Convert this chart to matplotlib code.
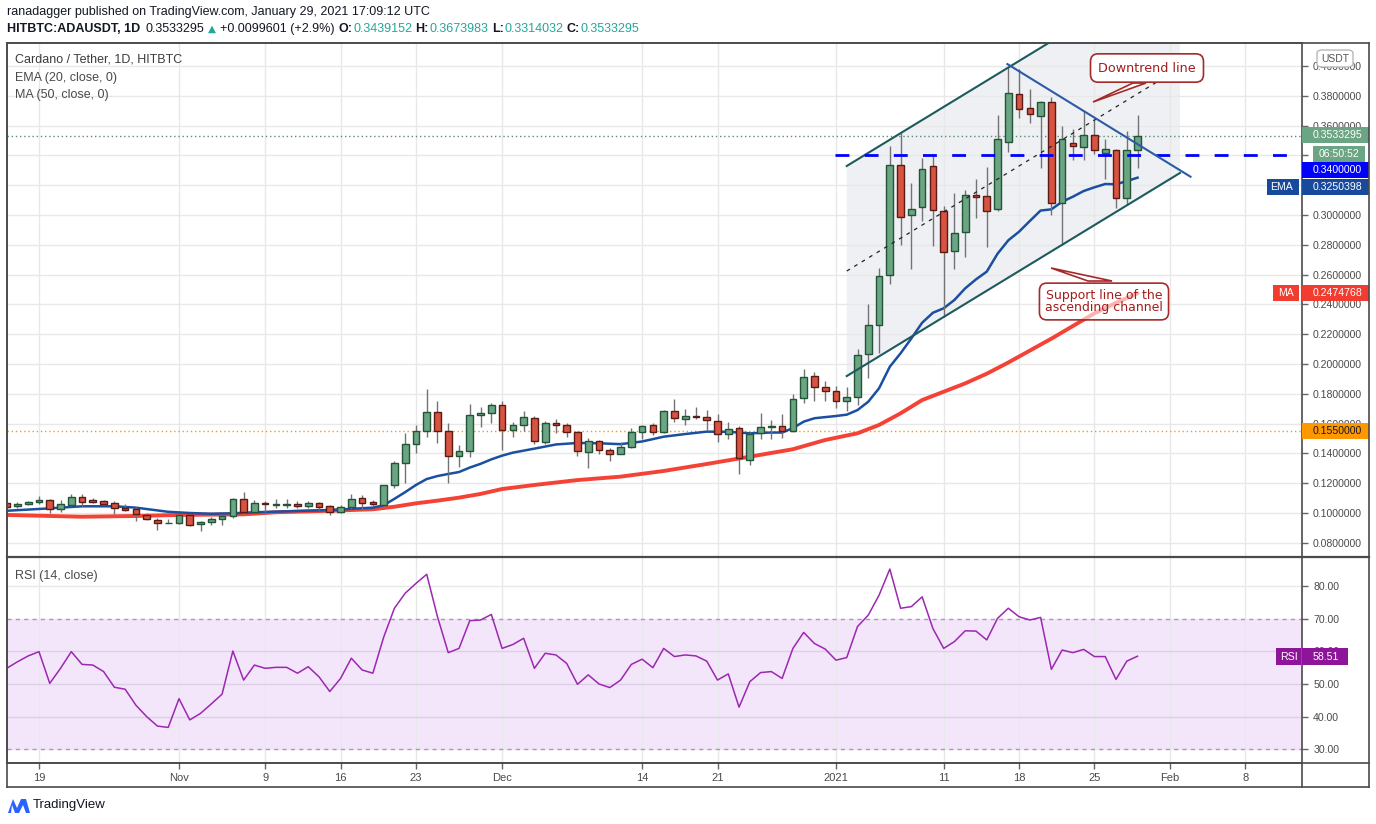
"""
ADA/USDT daily chart (TradingView style): candles, EMA20, MA50, channel drawings, RSI pane.
"""
import numpy as np
import pandas as pd
import matplotlib
matplotlib.use("Agg")
import matplotlib.pyplot as plt
import matplotlib.dates as mdates
from matplotlib.patches import Rectangle, Polygon, FancyBboxPatch
from matplotlib.lines import Line2D
from matplotlib.transforms import blended_transform_factory

plt.rcParams["font.family"] = ["Liberation Sans", "DejaVu Sans"]

# ---- data: daily candles 2020-10-16 .. 2021-01-29 ----
opens = [
    0.1065, 0.1045, 0.1058, 0.1076, 0.1085, 0.1025, 0.1056, 0.1105, 0.1086, 0.1078, 0.1067, 0.1034, 0.1027, 0.0985, 0.0955, 0.0932,
    0.0931, 0.0985, 0.0924, 0.0938, 0.0958, 0.0978, 0.1094, 0.1007, 0.1065, 0.1056, 0.1057, 0.1058, 0.1045, 0.1065, 0.1045,
    0.1005, 0.1038, 0.1099, 0.1072, 0.1056, 0.1186, 0.1334, 0.1461, 0.1548, 0.1676, 0.1548, 0.1381, 0.1414, 0.1656, 0.1669,
    0.1723, 0.1555, 0.1589, 0.1636, 0.1474, 0.1602, 0.1589, 0.1542, 0.1407, 0.1481, 0.1421, 0.1394, 0.1441, 0.1542, 0.1589,
    0.1542, 0.1683, 0.1629, 0.1649, 0.1642, 0.1615, 0.1528, 0.1569, 0.1354, 0.1535, 0.1575, 0.1582, 0.1548, 0.1770, 0.1917, 0.1844,
    0.1817, 0.1750, 0.1777, 0.2065, 0.2260, 0.2595, 0.3333, 0.2998, 0.3052, 0.3327, 0.3025, 0.2756, 0.2884, 0.3132, 0.3128,
    0.3038, 0.3488, 0.3810, 0.3716, 0.3662, 0.3756, 0.3078, 0.3481, 0.3454, 0.3535, 0.3414, 0.3434, 0.3112, 0.3439152,
]
highs = [
    0.1068, 0.1072, 0.1078, 0.1114, 0.1096, 0.1087, 0.1130, 0.1128, 0.1101, 0.1090, 0.1078, 0.1063, 0.1040, 0.1002, 0.0965, 0.0958,
    0.0994, 0.0996, 0.0946, 0.0971, 0.0985, 0.1099, 0.1141, 0.1087, 0.1079, 0.1094, 0.1094, 0.1079, 0.1079, 0.1072, 0.1052,
    0.1052, 0.1126, 0.1119, 0.1085, 0.1190, 0.1349, 0.1535, 0.1591, 0.1832, 0.1752, 0.1602, 0.1454, 0.1730, 0.1709, 0.1736,
    0.1750, 0.1609, 0.1685, 0.1651, 0.1615, 0.1629, 0.1602, 0.1548, 0.1501, 0.1488, 0.1434, 0.1474, 0.1569, 0.1589, 0.1602,
    0.1690, 0.1765, 0.1698, 0.1711, 0.1691, 0.1664, 0.1609, 0.1582, 0.1542, 0.1671, 0.1622, 0.1664, 0.1799, 0.1966, 0.1944, 0.1884,
    0.1855, 0.1844, 0.2101, 0.2405, 0.2642, 0.3461, 0.3548, 0.3213, 0.3380, 0.3401, 0.3060, 0.3146, 0.3166, 0.3240, 0.3320,
    0.3669, 0.3991, 0.3978, 0.3844, 0.3763, 0.3790, 0.3595, 0.3575, 0.3696, 0.3642, 0.3508, 0.3441, 0.3562, 0.3673983,
]
lows = [
    0.1035, 0.1032, 0.1052, 0.1058, 0.1002, 0.1009, 0.1050, 0.1049, 0.1067, 0.1055, 0.0991, 0.1014, 0.0948, 0.0951, 0.0886, 0.0931,
    0.0925, 0.0915, 0.0881, 0.0918, 0.0921, 0.0967, 0.0994, 0.1000, 0.1005, 0.1036, 0.1036, 0.1031, 0.1031, 0.1018, 0.0985,
    0.0998, 0.1030, 0.1020, 0.1045, 0.1050, 0.1166, 0.1199, 0.1405, 0.1512, 0.1472, 0.1199, 0.1307, 0.1378, 0.1575, 0.1602,
    0.1425, 0.1508, 0.1548, 0.1461, 0.1461, 0.1535, 0.1508, 0.1381, 0.1300, 0.1394, 0.1347, 0.1394, 0.1434, 0.1495, 0.1526,
    0.1535, 0.1609, 0.1589, 0.1629, 0.1555, 0.1474, 0.1495, 0.1260, 0.1320, 0.1495, 0.1495, 0.1501, 0.1541, 0.1736, 0.1754, 0.1754,
    0.1703, 0.1687, 0.1725, 0.1904, 0.2072, 0.2535, 0.2797, 0.2636, 0.2958, 0.2790, 0.2313, 0.2636, 0.2720, 0.2982, 0.2783,
    0.3025, 0.3421, 0.3649, 0.3620, 0.3313, 0.2998, 0.2797, 0.3367, 0.3367, 0.3407, 0.3240, 0.3045, 0.3065, 0.3314032,
]
closes = [
    0.1038, 0.1058, 0.1074, 0.1087, 0.1027, 0.1060, 0.1105, 0.1076, 0.1076, 0.1062, 0.1032, 0.1022, 0.0991, 0.0958, 0.0931, 0.0935,
    0.0985, 0.0922, 0.0940, 0.0958, 0.0980, 0.1094, 0.1007, 0.1067, 0.1059, 0.1059, 0.1060, 0.1045, 0.1065, 0.1038, 0.1005,
    0.1038, 0.1092, 0.1065, 0.1058, 0.1186, 0.1334, 0.1461, 0.1548, 0.1676, 0.1548, 0.1381, 0.1414, 0.1656, 0.1669, 0.1723,
    0.1555, 0.1589, 0.1642, 0.1481, 0.1602, 0.1589, 0.1542, 0.1414, 0.1481, 0.1421, 0.1394, 0.1441, 0.1542, 0.1582, 0.1542,
    0.1683, 0.1636, 0.1649, 0.1642, 0.1622, 0.1528, 0.1562, 0.1367, 0.1528, 0.1575, 0.1582, 0.1548, 0.1763, 0.1911, 0.1844, 0.1817,
    0.1750, 0.1777, 0.2058, 0.2260, 0.2589, 0.3333, 0.2985, 0.3038, 0.3307, 0.3032, 0.2750, 0.2877, 0.3132, 0.3119, 0.3025,
    0.3508, 0.3817, 0.3709, 0.3676, 0.3756, 0.3078, 0.3508, 0.3461, 0.3535, 0.3434, 0.3441, 0.3112, 0.3434, 0.3533295,
]
rsi_vals = [
    54.8, 56.8, 58.6, 59.9, 50.2, 54.8, 59.9, 56.0, 55.8, 53.8, 49.0, 48.4, 43.5, 40.0, 37.1, 36.7,
    45.5, 39.0, 41.0, 43.9, 46.9, 60.1, 51.2, 55.8, 54.8, 55.1, 55.1, 53.3, 55.3, 52.2, 47.7,
    51.7, 57.9, 54.3, 53.3, 64.3, 73.2, 77.8, 80.8, 83.6, 70.6, 59.6, 60.9, 69.4, 69.6, 71.3,
    60.9, 62.1, 64.0, 54.8, 59.4, 58.9, 56.3, 49.9, 52.8, 50.0, 48.9, 51.2, 56.0, 57.6, 55.0,
    60.9, 58.4, 58.9, 58.6, 57.0, 51.2, 53.1, 42.9, 50.7, 53.5, 53.8, 51.7, 60.9, 65.8, 62.4, 60.7,
    57.3, 58.1, 67.6, 71.1, 77.2, 85.2, 73.2, 73.7, 76.7, 67.0, 60.9, 63.0, 66.3, 66.2, 63.5,
    70.1, 73.2, 70.6, 69.6, 70.4, 54.5, 60.4, 59.6, 60.6, 58.4, 58.4, 51.4, 57.0, 58.51,
]

ema_dates = ["2020-10-16", "2020-10-19", "2020-10-23", "2020-10-26", "2020-10-28", "2020-10-31", "2020-11-02",
             "2020-11-04", "2020-11-06", "2020-11-08", "2020-11-10", "2020-11-15", "2020-11-19", "2020-11-20",
             "2020-11-21", "2020-11-22", "2020-11-23", "2020-11-24", "2020-11-25", "2020-11-26", "2020-11-27",
             "2020-11-28", "2020-11-29", "2020-11-30", "2020-12-01", "2020-12-02", "2020-12-04", "2020-12-06",
             "2020-12-08", "2020-12-10", "2020-12-12", "2020-12-14", "2020-12-16", "2020-12-18", "2020-12-20",
             "2020-12-22", "2020-12-24", "2020-12-26", "2020-12-27", "2020-12-28", "2020-12-29", "2020-12-30",
             "2021-01-01", "2021-01-02", "2021-01-03", "2021-01-04", "2021-01-05", "2021-01-06", "2021-01-07",
             "2021-01-08", "2021-01-09", "2021-01-10", "2021-01-11", "2021-01-12", "2021-01-13", "2021-01-14",
             "2021-01-15", "2021-01-16", "2021-01-17", "2021-01-18", "2021-01-19", "2021-01-20", "2021-01-21",
             "2021-01-22", "2021-01-23", "2021-01-24", "2021-01-25", "2021-01-26", "2021-01-27", "2021-01-28",
             "2021-01-29"]
ema_vals = [0.1015, 0.1027, 0.1045, 0.1045, 0.1036, 0.1008, 0.1000,
            0.0995, 0.0998, 0.1005, 0.1009, 0.1020, 0.1036, 0.1052,
            0.1095, 0.1140, 0.1188, 0.1228, 0.1248, 0.1262, 0.1275,
            0.1305, 0.1330, 0.1360, 0.1385, 0.1405, 0.1432, 0.1460,
            0.1470, 0.1468, 0.1462, 0.1480, 0.1512, 0.1530, 0.1546,
            0.1545, 0.1535, 0.1540, 0.1540, 0.1570, 0.1613, 0.1636,
            0.1651, 0.1660, 0.1691, 0.1747, 0.1837, 0.1982, 0.2072,
            0.2172, 0.2277, 0.2344, 0.2374, 0.2430, 0.2508, 0.2568,
            0.2620, 0.2740, 0.2830, 0.2888, 0.2960, 0.3030, 0.3038,
            0.3089, 0.3123, 0.3161, 0.3186, 0.3208, 0.3206, 0.3228,
            0.3250398]
ma_dates = ["2020-10-16", "2020-10-23", "2020-10-28", "2020-11-01", "2020-11-07", "2020-11-10", "2020-11-15",
            "2020-11-19", "2020-11-21", "2020-11-23", "2020-11-25", "2020-11-27", "2020-11-29", "2020-12-01",
            "2020-12-04", "2020-12-08", "2020-12-12", "2020-12-16", "2020-12-20", "2020-12-24", "2020-12-28",
            "2020-12-31", "2021-01-03", "2021-01-05", "2021-01-07", "2021-01-09", "2021-01-11", "2021-01-13",
            "2021-01-15", "2021-01-17", "2021-01-19", "2021-01-21", "2021-01-23", "2021-01-25", "2021-01-27",
            "2021-01-29"]
ma_vals = [0.0987, 0.0975, 0.0980, 0.0987, 0.0991, 0.1005, 0.1015,
           0.1025, 0.1042, 0.1065, 0.1083, 0.1103, 0.1128, 0.1161,
           0.1188, 0.1221, 0.1244, 0.1282, 0.1329, 0.1378, 0.1428,
           0.1490, 0.1535, 0.1591, 0.1669, 0.1758, 0.1814, 0.1870,
           0.1935, 0.2010, 0.2090, 0.2170, 0.2255, 0.2340, 0.2410,
           0.2474768]

tick_dates = ["2020-10-19", "2020-11-01", "2020-11-09", "2020-11-16", "2020-11-23", "2020-12-01", "2020-12-14",
              "2020-12-21", "2021-01-01", "2021-01-11", "2021-01-18", "2021-01-25", "2021-02-01", "2021-02-08"]
tick_labels = ["19", "Nov", "9", "16", "23", "Dec", "14", "21", "2021", "11", "18", "25", "Feb", "8"]

last_price = 0.3533295
level_line = 0.34
support_level = 0.155

# drawings (author's trend lines): (date, price)
chan_start, chan_end = "2021-01-02", "2021-02-01 22:30"
chan_lower = (0.1919, 0.3282)
chan_width = 0.1410
downtrend = [("2021-01-16 22:00", 0.4013), ("2021-02-02 22:00", 0.3257)]

# ---- layout helpers ----
W, H = 1376, 824
def fx(px): return px / W
def fy(py): return 1 - py / H
def dn(s): return mdates.date2num(np.datetime64(pd.Timestamp(s)))

X0 = dn("2020-10-19")
def pxd(x): return X0 + (x - 39) / 10.77          # pixel x -> date number
def pyp(y): return 0.10 + (513 - y) / 1490          # pixel y -> price

GRID = "#e8e8e8"
FRAME = "#4a4a4a"
TXT = "#4a4a4a"
UP, UP_EDGE = "#6ba583", "#225437"
DN, DN_EDGE = "#d75442", "#5b1a13"
AXFS = 7.6

fig = plt.figure(figsize=(13.76, 8.24), dpi=100)
fig.patch.set_facecolor("white")
ax = fig.add_axes([fx(7), fy(557), fx(1302) - fx(7), fy(43) - fy(557)])
rs = fig.add_axes([fx(7), fy(763), fx(1302) - fx(7), fy(557) - fy(763)])

xs = mdates.date2num(pd.date_range("2020-10-16", periods=len(closes), freq="D").values)
o, h, l, c = map(np.array, (opens, highs, lows, closes))
ticks = [dn(t) for t in tick_dates]

for a in (ax, rs):
    a.set_xlim(X0 - 2.97, X0 + 117.27)
    a.set_xticks(ticks)
    for s in a.spines.values():
        s.set_color(FRAME)
        s.set_linewidth(1.2)
    for t in ticks:
        a.axvline(t, color=GRID, lw=1, zorder=0.6)

# ---- main pane ----
ax.set_ylim(0.07047, 0.41544)
yt = np.round(np.arange(0.08, 0.4001, 0.02), 2)
ax.set_yticks(yt)
ax.set_yticklabels([f"{v:.7f}" for v in yt])
ax.yaxis.tick_right()
ax.tick_params(axis="y", direction="out", length=4, width=1, color="#666666",
               labelsize=AXFS, labelcolor=TXT, pad=4)
ax.tick_params(axis="x", length=0, labelbottom=False)
for v in yt:
    ax.axhline(v, color=GRID, lw=1, zorder=0.6)

# channel fill, mid line and borders
ca, cb = dn(chan_start), dn(chan_end)
lo_a, lo_b = chan_lower
ax.add_patch(Polygon([(ca, lo_a), (cb, lo_b), (cb, lo_b + chan_width), (ca, lo_a + chan_width)],
                     closed=True, facecolor="#eef0f3", edgecolor="none", zorder=0.5))
ax.plot([ca, cb], [lo_a, lo_b], color="#1d5a5c", lw=1.5, zorder=5)
ax.plot([ca, cb], [lo_a + chan_width, lo_b + chan_width], color="#1d5a5c", lw=1.5, zorder=5)
ax.plot([ca, cb], [lo_a + chan_width / 2, lo_b + chan_width / 2], color="#222222", lw=0.9,
        dashes=(3, 4), zorder=5)

# horizontal levels
ax.axhline(last_price, color="#5a8f73", lw=1, ls=(0, (1, 2)), zorder=1)
ax.axhline(support_level, color="#ff9800", lw=1, ls=(0, (1, 2)), zorder=1)
ax.plot([dn("2020-12-31 22:00"), X0 + 117.27], [level_line, level_line], color="#0000ff",
        lw=2, dashes=(5, 5.5), zorder=5)

# moving averages
ax.plot([dn(d) for d in ma_dates], ma_vals, color="#f44336", lw=2.8, zorder=2, solid_capstyle="round")
ax.plot([dn(d) for d in ema_dates], ema_vals, color="#1b4fa0", lw=1.8, zorder=2)

# candles
up = c >= o
ax.vlines(xs, l, h, color="#737375", lw=1, zorder=3)
ax.bar(xs, np.maximum(np.abs(c - o), 0.0004), bottom=np.minimum(o, c), width=0.62,
       color=np.where(up, UP, DN), edgecolor=np.where(up, UP_EDGE, DN_EDGE), linewidth=1, zorder=4)

# downtrend line
ax.plot([dn(downtrend[0][0]), dn(downtrend[1][0])], [downtrend[0][1], downtrend[1][1]],
        color="#2c5ba6", lw=1.5, zorder=5)

# callouts
NOTE = "#a52a2a"
ax.add_patch(Polygon([(pxd(1093), pyp(102)), (pxd(1133), pyp(83)), (pxd(1146), pyp(83))],
                     closed=True, facecolor="white", edgecolor=NOTE, lw=1.2, zorder=6))
ax.text(pxd(1147), pyp(68), "Downtrend line", ha="center", va="center", fontsize=9.2, color="#a31c1c",
        family="DejaVu Sans", zorder=7,
        bbox=dict(boxstyle="round,pad=0.6,rounding_size=0.6", fc="white", ec=NOTE, lw=1.2))
ax.add_patch(Polygon([(pxd(1051), pyp(268)), (pxd(1088), pyp(281)), (pxd(1112), pyp(281))],
                     closed=True, facecolor=(1, 1, 1, 0.6), edgecolor=NOTE, lw=1.2, zorder=6))
ax.text(pxd(1104), pyp(301.5), "Support line of the\nascending channel", ha="center", va="center",
        fontsize=9, color="#a31c1c", linespacing=0.95, family="DejaVu Sans", zorder=7,
        bbox=dict(boxstyle="round,pad=0.45,rounding_size=0.6", fc=(1, 1, 1, 0.6), ec=NOTE, lw=1.2))

# right-hand price tags
def tag(a, yc, hh, text, fc, tc, px0=1302, px1=1369, tx=1313):
    tr = blended_transform_factory(a.transAxes, a.transData)
    x0, x1 = (px0 - 7) / 1295, (px1 - 7) / 1295
    a.add_patch(Rectangle((x0, yc - hh / 2), x1 - x0, hh, transform=tr, facecolor=fc,
                          edgecolor="none", clip_on=False, zorder=20))
    a.text((tx - 7) / 1295, yc, text, transform=tr, color=tc, fontsize=AXFS, va="center",
           ha="left", zorder=21, clip_on=False)

PH = 16 / 1490
tag(ax, pyp(135), PH, f"{last_price:.7f}", UP, "white")
tag(ax, pyp(153.8), PH, "06:50:52", UP, "white", px0=1313, px1=1365, tx=1319)
tag(ax, pyp(170), PH, f"{level_line:.7f}", "#0000ff", "white")
tag(ax, pyp(187.2), PH, f"{ema_vals[-1]:.7f}", "#174a9c", "white")
tag(ax, pyp(187.2), PH, "EMA", "#174a9c", "white", px0=1266.7, px1=1299.3, tx=1270)
tag(ax, pyp(292.5), PH, f"{ma_vals[-1]:.7f}", "#f23c30", "white")
tag(ax, pyp(292.5), PH, "MA", "#f23c30", "white", px0=1273, px1=1299.3, tx=1278)
tag(ax, pyp(431), PH, f"{support_level:.7f}", "#ff9800", "#131722")

# ---- RSI pane ----
rs.set_ylim(25.8, 88.9)
rs.axhspan(30, 70, color="#f3e6fb", zorder=0.4)
for v in (40, 50, 60):
    rs.axhline(v, color="#dcd0e6", lw=1, zorder=0.6)
rs.axhline(80, color=GRID, lw=1, zorder=0.6)
for v in (30, 70):
    rs.axhline(v, color="#a89cb2", lw=1, dashes=(3, 3), zorder=0.7)
rs.plot(xs, rsi_vals, color="#9c27b0", lw=1.1, zorder=3)
rt = [30, 40, 50, 60, 70, 80]
rs.set_yticks(rt)
rs.set_yticklabels([f"{v:.2f}" for v in rt])
rs.yaxis.tick_right()
rs.tick_params(axis="y", direction="out", length=4, width=1, color="#666666",
               labelsize=AXFS, labelcolor=TXT, pad=4)
rs.set_xticklabels(tick_labels)
rs.tick_params(axis="x", direction="out", length=4, width=1, color="#666666",
               labelsize=8, labelcolor=TXT, pad=3)
RH = 17 / 3.266
rsi_y = 80 - (656.5 - 586) / 3.266
tag(rs, rsi_y, RH, f"{rsi_vals[-1]:.2f}", "#8e1599", "white", px1=1348)
tag(rs, rsi_y, RH, "RSI", "#8e1599", "white", px0=1276, px1=1300.5, tx=1280)

# ---- frame lines ----
def fline(x0, y0, x1, y1, lw=1.2, color=FRAME):
    fig.add_artist(Line2D([fx(x0), fx(x1)], [fy(y0), fy(y1)], color=color, lw=lw))
fline(7, 43, 1369, 43)
fline(7, 557, 1369, 557, lw=1.6)
fline(7, 763, 1369, 763)
fline(7, 787, 1369, 787)
fline(1369, 43, 1369, 787)
fline(7, 43, 7, 787)
fline(1302, 763, 1302, 787)

# USDT badge
fig.add_artist(FancyBboxPatch((fx(1317), fy(67)), fx(36), 17 / H,
                              boxstyle="round,pad=0,rounding_size=0.004",
                              facecolor="white", edgecolor="#b8b8b8", lw=1))
fig.text(fx(1335), fy(58.5), "USDT", ha="center", va="center", fontsize=7.5, color="#555555")

# ---- header ----
fig.text(fx(7), fy(12), "ranadagger published on TradingView.com, January 29, 2021 17:09:12 UTC",
         fontsize=9, color="#131722", va="center")
TEAL = "#26a69a"
pieces = [
    ("HITBTC:ADAUSDT, 1D", "#131722", "bold", 5),
    ("0.3533295", "#131722", "normal", 4),
    ("\u25B2", TEAL, "normal", 4),
    ("+0.0099601 (+2.9%)", "#131722", "normal", 4),
    ("O:", "#131722", "bold", 1),
    ("0.3439152", TEAL, "normal", 3),
    ("H:", "#131722", "bold", 1),
    ("0.3673983", TEAL, "normal", 3),
    ("L:", "#131722", "bold", 1),
    ("0.3314032", TEAL, "normal", 3),
    ("C:", "#131722", "bold", 1),
    ("0.3533295", TEAL, "normal", 0),
]
renderer = fig.canvas.get_renderer()
cur = 7.0
for s, col, wt, gap in pieces:
    arrow = s == "\u25B2"
    t = fig.text(fx(cur), fy(29), s, fontsize=7.5 if arrow else 9, color=col, fontweight=wt,
                 va="center", family=["DejaVu Sans"] if arrow else None)
    bb = t.get_window_extent(renderer=renderer)
    cur = bb.x1 + gap

fig.text(fx(15), fy(60), "Cardano / Tether, 1D, HITBTC", fontsize=9, color="#3c3c3c", va="center")
fig.text(fx(15), fy(78), "EMA (20, close, 0)", fontsize=9, color=TXT, va="center")
fig.text(fx(15), fy(95), "MA (50, close, 0)", fontsize=9, color=TXT, va="center")
fig.text(fx(15), fy(576), "RSI (14, close)", fontsize=9, color=TXT, va="center")

# TradingView mark
logo = [(8, 813), (13, 799), (17, 808), (21, 799), (26, 799), (30, 813), (26, 813), (23, 805),
        (19, 813), (15, 813), (12, 805), (11, 813)]
fig.add_artist(Polygon([(fx(x), fy(y)) for x, y in logo], closed=True, facecolor="#2962ff",
                       edgecolor="none"))
fig.text(fx(33), fy(805), "TradingView", fontsize=9.5, color="#131722", va="center")

fig.savefig("out.png", dpi=100, facecolor="white")
